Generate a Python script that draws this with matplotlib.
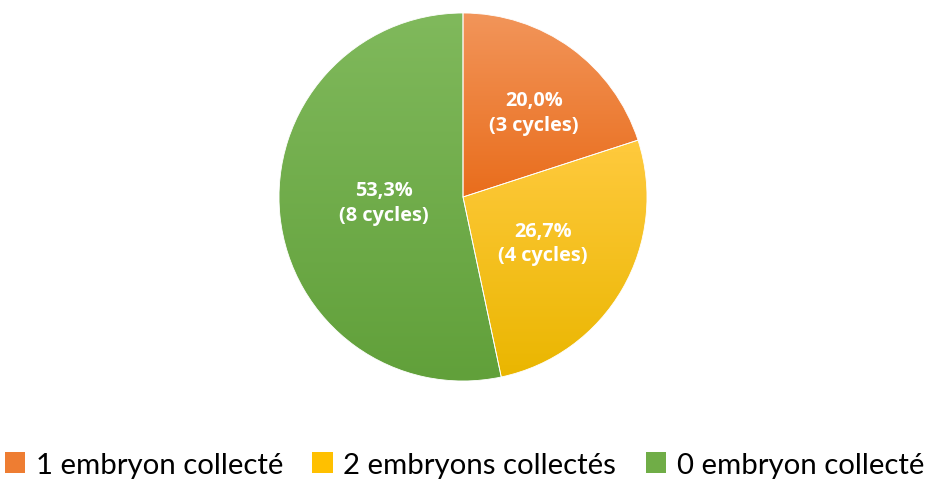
import numpy as np
import matplotlib
matplotlib.use("Agg")
import matplotlib.pyplot as plt
from matplotlib.patches import Patch
from matplotlib.colors import LinearSegmentedColormap

categories = ["1 embryon collecté", "2 embryons collectés", "0 embryon collecté"]
cycles = [3, 4, 8]
top_colors = ["#F2955A", "#FFCA3E", "#80B95C"]
bottom_colors = ["#E96D1C", "#EAB600", "#61A03A"]
legend_colors = ["#EE7D32", "#FFC000", "#70AD47"]
label_dist = [0.60, 0.50, 0.43]
label_ang_shift = [-4, 0, -2]

plt.rcParams['font.family'] = ['Lato', 'DejaVu Sans']

fig = plt.figure(figsize=(9.25, 4.81), dpi=100)
ax = fig.add_axes([0, 0, 1, 1])

cx, cy, R = 463, 283, 184
wedges, _ = ax.pie(cycles, startangle=90, counterclock=False, center=(cx, cy),
                   radius=R, frame=True,
                   wedgeprops=dict(facecolor='none', edgecolor='white', linewidth=0.6))
ax.set_aspect('auto')

total = sum(cycles)
for i, w in enumerate(wedges):
    ext = w.get_path().get_extents(w.get_patch_transform())
    cmap = LinearSegmentedColormap.from_list("g%d" % i, [bottom_colors[i], top_colors[i]])
    grad = np.linspace(0, 1, 256).reshape(-1, 1)
    im = ax.imshow(grad, cmap=cmap, origin='lower', aspect='auto',
                   extent=(ext.x0, ext.x1, ext.y0, ext.y1), zorder=1, interpolation='bilinear')
    im.set_clip_path(w)
    w.set_zorder(2)
    ang = np.deg2rad((w.theta1 + w.theta2) / 2 + label_ang_shift[i])
    tx = cx + label_dist[i] * R * np.cos(ang)
    ty = cy + label_dist[i] * R * np.sin(ang)
    pct = 100 * cycles[i] / total
    txt = ("%.1f%%" % pct).replace('.', ',') + "\n(%d cycles)" % cycles[i]
    ax.text(tx, ty, txt, ha='center', va='center', color='white', fontsize=14.3,
            fontweight='bold', family=['Open Sans', 'DejaVu Sans'],
            linespacing=1.3, zorder=3)

ax.set_xlim(0, 925)
ax.set_ylim(0, 481)
ax.axis('off')

handles = [Patch(facecolor=c, edgecolor='none') for c in legend_colors]
fig.legend(handles, categories, loc='lower center', bbox_to_anchor=(0.502, -0.05), ncol=3,
           frameon=False, fontsize=21.2, handlelength=0.7, handleheight=0.7,
           handletextpad=0.35, columnspacing=1.0)

fig.savefig("out.png", dpi=100)
